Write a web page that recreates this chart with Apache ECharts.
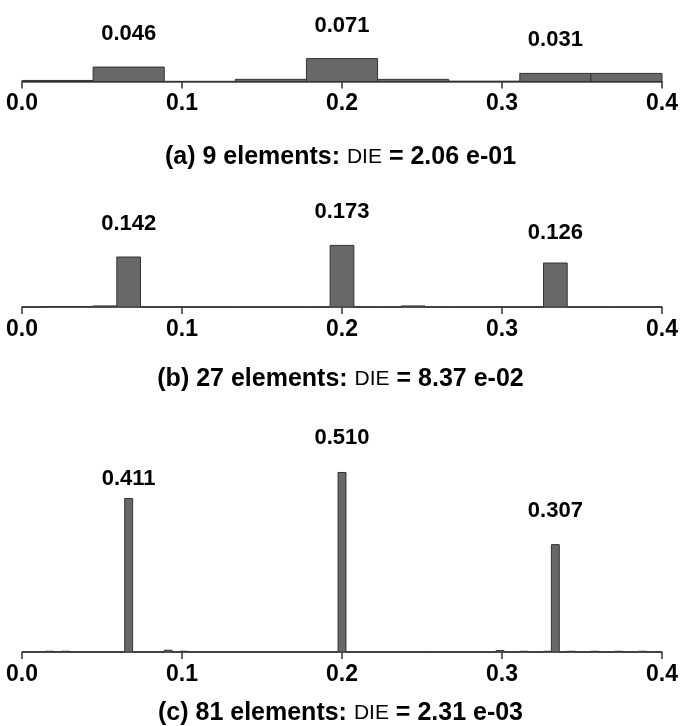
<!DOCTYPE html>
<html>
<head>
<meta charset="utf-8">
<script src="https://cdn.jsdelivr.net/npm/echarts@6/dist/echarts.min.js"></script>
<style>
  html, body { margin: 0; padding: 0; background: #fff; }
  #chart { width: 681px; height: 726px; }
</style>
</head>
<body>
<div id="chart"></div>
<script>
// ====== data ======
const xMax = 0.4;

// bin heights, equal-width bins over [0, 0.4]
const binsA = [0.003, 0.041, 0.0005, 0.006, 0.065, 0.006, 0.001, 0.023, 0.023];
const binsB = [
  0, 0.001, 0.001, 0.003, 0.142, 0, 0, 0, 0,
  0, 0, 0, 0, 0.175, 0, 0, 0.003, 0,
  0, 0, 0, 0, 0.125, 0, 0, 0, 0
];
// 81 bins: only the non-empty ones are listed (bin index -> height)
const nonEmptyC = { 3: 0.002, 5: 0.002, 13: 0.436, 18: 0.005, 20: 0.002, 40: 0.510,
  60: 0.004, 63: 0.002, 66: 0.002, 67: 0.305, 69: 0.002, 72: 0.002, 75: 0.002, 78: 0.002 };
const binsC = new Array(81).fill(0);
Object.keys(nonEmptyC).forEach(k => { binsC[+k] = nonEmptyC[k]; });

// peak annotations
const peakX = [1 / 15, 0.2, 1 / 3];
const peakTextA = ['0.046', '0.071', '0.031'];
const peakTextB = ['0.142', '0.173', '0.126'];
const peakTextC = ['0.411', '0.510', '0.307'];

const captions = [
  ['(a) 9 elements: ', 'DIE', ' = 2.06 e-01'],
  ['(b) 27 elements: ', 'DIE', ' = 8.37 e-02'],
  ['(c) 81 elements: ', 'DIE', ' = 2.31 e-03']
];

// ====== layout ======
const FONT = "'Liberation Sans', Arial, sans-serif";
const panels = [
  { bins: binsA, texts: peakTextA, grid: { left: 22, right: 17, top: 46.3, bottom: 644.5 }, yMax: 0.1, raise: [22, 22, 22], capTop: 140 },
  { bins: binsB, texts: peakTextB, grid: { left: 22, right: 17, top: 236.6, bottom: 419 }, yMax: 0.2, raise: [22, 22, 19], capTop: 362 },
  { bins: binsC, texts: peakTextC, grid: { left: 22, right: 17, top: 458.4, bottom: 74 }, yMax: 0.55, raise: [9, 24, 23], capTop: 696 }
];

const toBinData = (bins) => {
  const w = xMax / bins.length;
  return bins.map((h, i) => [i * w, (i + 1) * w, h]);
};

const heightAt = (bins, x) => {
  const w = xMax / bins.length;
  return bins[Math.min(bins.length - 1, Math.floor(x / w))];
};

function renderBin(params, api) {
  const top = api.coord([api.value(0), api.value(2)]);
  const bot = api.coord([api.value(1), 0]);
  return {
    type: 'rect',
    shape: { x: top[0], y: top[1], width: bot[0] - top[0], height: bot[1] - top[1] },
    style: { fill: '#686868', stroke: '#333', lineWidth: 1 }
  };
}

const grids = [], xAxes = [], yAxes = [], series = [], titles = [];
panels.forEach((p, i) => {
  grids.push(p.grid);
  xAxes.push({
    gridIndex: i, type: 'value', min: 0, max: xMax, interval: 0.1,
    axisLine: { show: true, lineStyle: { color: '#444', width: 1.5 } },
    axisTick: { show: true, inside: false, length: 7, lineStyle: { color: '#333', width: 1.5 } },
    axisLabel: {
      color: '#000', fontFamily: FONT, fontSize: 23, fontWeight: 'bold', margin: 11,
      showMinLabel: true, showMaxLabel: true,
      formatter: v => v.toFixed(1)
    },
    splitLine: { show: false }
  });
  yAxes.push({ gridIndex: i, type: 'value', min: 0, max: p.yMax, show: false, splitLine: { show: false } });
  series.push({
    type: 'custom', xAxisIndex: i, yAxisIndex: i,
    renderItem: renderBin,
    encode: { x: [0, 1], y: 2 },
    data: toBinData(p.bins),
    silent: true
  });
  series.push({
    type: 'scatter', xAxisIndex: i, yAxisIndex: i,
    symbolSize: 0, clip: false, silent: true,
    itemStyle: { opacity: 1 },
    data: peakX.map((x, k) => ({
      value: [x, heightAt(p.bins, x), p.texts[k]],
      label: { distance: p.raise[k] }
    })),
    label: {
      show: true, position: 'top',
      formatter: d => d.value[2],
      color: '#000', fontFamily: FONT, fontSize: 22, fontWeight: 'bold'
    }
  });
  const c = captions[i];
  titles.push({
    left: 'center', top: p.capTop,
    text: '{b|' + c[0] + '}{n|' + c[1] + '}{b|' + c[2] + '}',
    textStyle: {
      rich: {
        b: { fontFamily: FONT, fontSize: 25, fontWeight: 'bold', color: '#000' },
        n: { fontFamily: FONT, fontSize: 21, fontWeight: 'normal', color: '#000' }
      }
    }
  });
});

const chart = echarts.init(document.getElementById('chart'));
chart.setOption({
  animation: false,
  backgroundColor: '#fff',
  title: titles,
  grid: grids,
  xAxis: xAxes,
  yAxis: yAxes,
  series: series
});
window.addEventListener('resize', () => chart.resize());
</script>
</body>
</html>
